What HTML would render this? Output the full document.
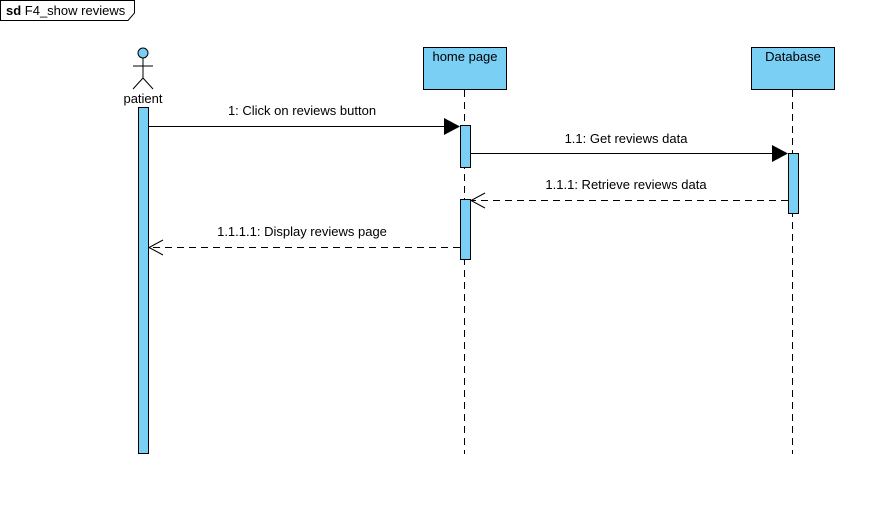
<!DOCTYPE html>
<html><head><style>body{margin:0;background:#fff}svg{display:block}</style></head><body>
<svg width="882" height="509" xmlns="http://www.w3.org/2000/svg" font-family="Liberation Sans, Arial, sans-serif" font-size="13">
<rect width="882" height="509" fill="#fff"/>
<path d="M0.5,0.5 H134.5 V13 L128,20.5 H0.5 Z" fill="#fff" stroke="#000"/>
<text x="6" y="15" font-size="13"><tspan font-weight="bold">sd</tspan> F4_show reviews</text>
<circle cx="143" cy="53" r="5" fill="#7acff5" stroke="#000"/>
<line x1="143" y1="58" x2="143" y2="78" stroke="#000"/>
<line x1="133" y1="66" x2="153" y2="66" stroke="#000"/>
<line x1="143" y1="78" x2="133" y2="89" stroke="#000"/>
<line x1="143" y1="78" x2="153" y2="89" stroke="#000"/>
<text x="143" y="103" text-anchor="middle">patient</text>
<rect x="423.5" y="47.5" width="83" height="42" fill="#7acff5" stroke="#000"/>
<text x="465" y="61" text-anchor="middle">home page</text>
<rect x="751.5" y="47.5" width="83" height="42" fill="#7acff5" stroke="#000"/>
<text x="793" y="61" text-anchor="middle">Database</text>
<line x1="464.5" y1="90" x2="464.5" y2="454" stroke="#000" stroke-dasharray="7,5"/>
<line x1="792.5" y1="90" x2="792.5" y2="454" stroke="#000" stroke-dasharray="7,5"/>
<rect x="138.5" y="107.5" width="10" height="346" fill="#7acff5" stroke="#000"/>
<rect x="460.5" y="125.5" width="10" height="42" fill="#7acff5" stroke="#000"/>
<rect x="460.5" y="199.5" width="10" height="60" fill="#7acff5" stroke="#000"/>
<rect x="788.5" y="153.5" width="10" height="60" fill="#7acff5" stroke="#000"/>
<line x1="149" y1="126.5" x2="446" y2="126.5" stroke="#000"/>
<path d="M444,118 L460,126.5 L444,135 Z" fill="#000"/>
<text x="302" y="115" text-anchor="middle">1: Click on reviews button</text>
<line x1="471" y1="153.5" x2="774" y2="153.5" stroke="#000"/>
<path d="M772,145 L788,153.5 L772,162 Z" fill="#000"/>
<text x="626" y="143" text-anchor="middle">1.1: Get reviews data</text>
<line x1="788" y1="200.5" x2="472" y2="200.5" stroke="#000" stroke-dasharray="7,5"/>
<path d="M485,193 L471,200.5 L485,208" fill="none" stroke="#000"/>
<text x="626" y="189" text-anchor="middle">1.1.1: Retrieve reviews data</text>
<line x1="460" y1="247.5" x2="150" y2="247.5" stroke="#000" stroke-dasharray="7,5"/>
<path d="M163,240 L149,247.5 L163,255" fill="none" stroke="#000"/>
<text x="302" y="236" text-anchor="middle">1.1.1.1: Display reviews page</text>
</svg>
</body></html>
